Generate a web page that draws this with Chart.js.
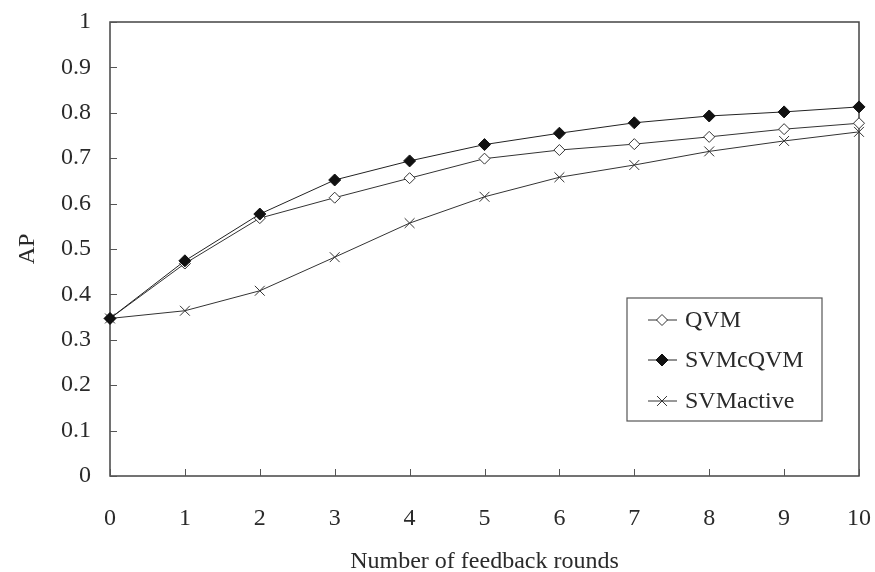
<!DOCTYPE html>
<html lang="en">
<head>
  <meta charset="UTF-8">
  <title>AP vs feedback rounds</title>
  <script src="https://cdn.jsdelivr.net/npm/chart.js"></script>
  <style>
    html, body { margin: 0; padding: 0; background: #fff; }
    #wrap { width: 875px; height: 572px; }
  </style>
</head>
<body>
  <div id="wrap"><canvas id="chart" width="875" height="572"></canvas></div>

  <script>
    // data
    const rounds = ['0', '1', '2', '3', '4', '5', '6', '7', '8', '9', '10'];
    const qvm = [0.347, 0.468, 0.568, 0.613, 0.656, 0.699, 0.718, 0.731, 0.747, 0.764, 0.777];
    const svmcqvm = [0.347, 0.474, 0.577, 0.652, 0.694, 0.730, 0.755, 0.778, 0.793, 0.802, 0.813];
    const svmactive = [0.347, 0.364, 0.408, 0.482, 0.557, 0.615, 0.658, 0.685, 0.715, 0.738, 0.758];
    const yTickLabels = ['0', '0.1', '0.2', '0.3', '0.4', '0.5', '0.6', '0.7', '0.8', '0.9', '1'];

    const serif = '"Liberation Serif", "Times New Roman", serif';
    const ink = '#2a2a2a';

    // box round the plot, inward ticks and the legend inside the plot
    const frame = {
      id: 'frame',
      beforeDatasetsDraw(chart) {
        const { ctx, chartArea: a, scales } = chart;
        ctx.save();
        ctx.strokeStyle = '#444';
        ctx.lineWidth = 1.5;
        ctx.strokeRect(a.left, a.top, a.right - a.left, a.bottom - a.top);
        ctx.lineWidth = 1;
        ctx.strokeStyle = '#555';
        yTickLabels.forEach((t, i) => {
          const y = Math.round(scales.y.getPixelForValue(i / 10)) + 0.5;
          ctx.beginPath();
          ctx.moveTo(a.left, y);
          ctx.lineTo(a.left + 7, y);
          ctx.stroke();
        });
        rounds.forEach((r, i) => {
          const x = Math.round(scales.x.getPixelForValue(i)) + 0.5;
          ctx.beginPath();
          ctx.moveTo(x, a.bottom);
          ctx.lineTo(x, a.bottom - 7);
          ctx.stroke();
        });
        ctx.restore();
      },
      afterDraw(chart) {
        const { ctx } = chart;
        const bx = 627, by = 298, bw = 195, bh = 123;
        ctx.save();
        ctx.fillStyle = '#fff';
        ctx.fillRect(bx, by, bw, bh);
        ctx.strokeStyle = '#555';
        ctx.lineWidth = 1.2;
        ctx.strokeRect(bx, by, bw, bh);
        const rows = [320, 360, 401];
        chart.data.datasets.forEach((ds, i) => {
          const y = rows[i];
          ctx.strokeStyle = ds.borderColor;
          ctx.lineWidth = 1;
          ctx.beginPath();
          ctx.moveTo(648, y);
          ctx.lineTo(677, y);
          ctx.stroke();
          ctx.fillStyle = ds.pointBackgroundColor;
          ctx.strokeStyle = ds.pointBorderColor;
          Chart.helpers.drawPoint(ctx, {
            pointStyle: ds.pointStyle, radius: ds.pointRadius, borderWidth: 1, rotation: 0
          }, 662, y);
          ctx.fillStyle = ink;
          ctx.font = '24px ' + serif;
          ctx.textBaseline = 'middle';
          ctx.textAlign = 'left';
          ctx.fillText(ds.label, 685, y + 1);
        });
        ctx.restore();
      }
    };

    new Chart(document.getElementById('chart'), {
      type: 'line',
      data: {
        labels: rounds,
        datasets: [
          {
            label: 'QVM', data: qvm, order: 2,
            borderColor: '#333', borderWidth: 1,
            pointStyle: 'rectRot', pointRadius: 5.5,
            pointBackgroundColor: '#fff', pointBorderColor: '#333', pointBorderWidth: 1
          },
          {
            label: 'SVMcQVM', data: svmcqvm, order: 1,
            borderColor: '#222', borderWidth: 1,
            pointStyle: 'rectRot', pointRadius: 6,
            pointBackgroundColor: '#111', pointBorderColor: '#111', pointBorderWidth: 1
          },
          {
            label: 'SVMactive', data: svmactive, order: 3,
            borderColor: '#333', borderWidth: 1,
            pointStyle: 'crossRot', pointRadius: 7,
            pointBackgroundColor: '#333', pointBorderColor: '#333', pointBorderWidth: 1
          }
        ]
      },
      options: {
        responsive: false,
        animation: false,
        layout: { padding: { top: 22, right: 16, left: 0, bottom: 0 } },
        plugins: {
          legend: { display: false },
          tooltip: { enabled: false },
          title: { display: false }
        },
        scales: {
          x: {
            offset: false,
            grid: { display: false, drawTicks: false },
            border: { display: false },
            ticks: {
              color: ink, padding: 28,
              font: { family: serif, size: 24 },
              maxRotation: 0, autoSkip: false
            },
            title: {
              display: true, text: 'Number of feedback rounds', color: ink,
              font: { family: serif, size: 24 },
              padding: { top: 0, bottom: -4 }
            },
            afterFit(s) {
              s.height = 96;
              s.paddingLeft = 0;
              s.paddingRight = 0;
            }
          },
          y: {
            min: 0, max: 1,
            grid: { display: false, drawTicks: false },
            border: { display: false },
            ticks: {
              stepSize: 0.1, color: ink, padding: 19,
              font: { family: serif, size: 24 },
              callback: (v, i) => yTickLabels[i]
            },
            title: {
              display: true, text: 'AP', color: ink,
              font: { family: serif, size: 24 },
              padding: { top: 13, bottom: 0 }
            },
            afterFit(s) {
              s.width = 110;
              s.paddingTop = 0;
              s.paddingBottom = 0;
            }
          }
        }
      },
      plugins: [frame]
    });
  </script>
</body>
</html>
